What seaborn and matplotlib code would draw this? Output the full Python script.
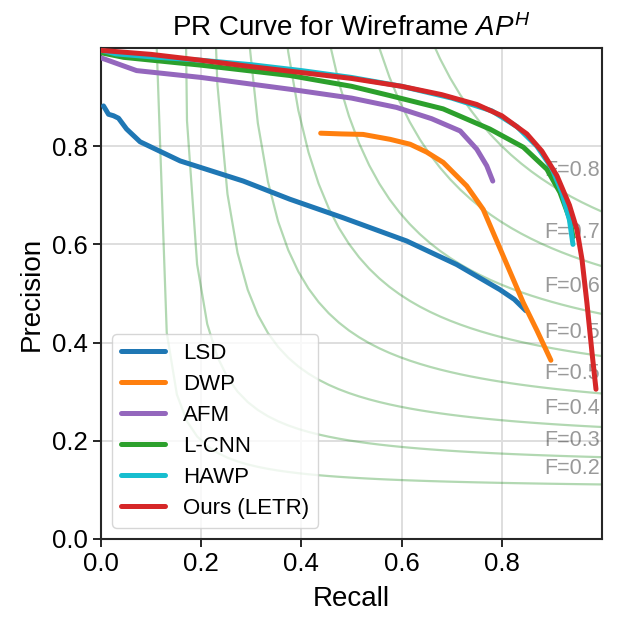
import numpy as np
import pandas as pd
import matplotlib
matplotlib.use("Agg")
import matplotlib.pyplot as plt
import seaborn as sns

# ---------------- data ----------------
methods = ["LSD", "DWP", "AFM", "L-CNN", "HAWP", "Ours (LETR)"]
colors = ["#1f77b4", "#ff7f0e", "#9467bd", "#2ca02c", "#17becf", "#d62728"]

lsd_r = [0.005, 0.015, 0.025, 0.035, 0.051, 0.078, 0.158, 0.284, 0.377, 0.484, 0.610, 0.710, 0.796, 0.825, 0.848]
lsd_p = [0.882, 0.865, 0.862, 0.857, 0.835, 0.809, 0.770, 0.729, 0.692, 0.654, 0.607, 0.559, 0.508, 0.488, 0.465]

dwp_r = [0.4385, 0.48, 0.523, 0.577, 0.617, 0.65, 0.683, 0.73, 0.763, 0.803, 0.843, 0.87, 0.898]
dwp_p = [0.8265, 0.825, 0.824, 0.814, 0.804, 0.788, 0.767, 0.719, 0.671, 0.576, 0.481, 0.425, 0.364]

afm_r = [0.0, 0.071, 0.2, 0.377, 0.5, 0.59, 0.66, 0.717, 0.75, 0.77, 0.782]
afm_p = [0.98, 0.954, 0.940, 0.916, 0.898, 0.879, 0.856, 0.831, 0.794, 0.760, 0.729]

lcnn_r = [0.002, 0.045, 0.2, 0.377, 0.5, 0.577, 0.683, 0.776, 0.843, 0.89, 0.916, 0.936, 0.942]
lcnn_p = [0.99, 0.981, 0.965, 0.944, 0.922, 0.903, 0.876, 0.835, 0.798, 0.753, 0.706, 0.651, 0.615]

hawp_r = [0.002, 0.03, 0.1, 0.2, 0.3, 0.4, 0.5, 0.6, 0.7, 0.78, 0.83, 0.87, 0.9, 0.92, 0.935, 0.942]
hawp_p = [0.995, 0.988, 0.982, 0.975, 0.966, 0.954, 0.940, 0.922, 0.898, 0.872, 0.840, 0.800, 0.755, 0.705, 0.650, 0.600]

letr_r = [0.002, 0.1, 0.2, 0.3, 0.4, 0.5, 0.6, 0.68, 0.75, 0.8, 0.85, 0.88, 0.91, 0.935, 0.95, 0.96, 0.97, 0.98, 0.988]
letr_p = [0.995, 0.987, 0.975, 0.962, 0.950, 0.938, 0.922, 0.905, 0.885, 0.862, 0.825, 0.790, 0.740, 0.680, 0.630, 0.570, 0.480, 0.380, 0.305]

f_scores = np.linspace(0.2, 0.8, num=8)
tick_vals = [0.0, 0.2, 0.4, 0.6, 0.8]

recalls = [lsd_r, dwp_r, afm_r, lcnn_r, hawp_r, letr_r]
precisions = [lsd_p, dwp_p, afm_p, lcnn_p, hawp_p, letr_p]

rows = []
for m, rr, pp in zip(methods, recalls, precisions):
    for r, p in zip(rr, pp):
        rows.append({"Method": m, "Recall": r, "Precision": p})
df = pd.DataFrame(rows)

# ---------------- style ----------------
sns.set_theme(context="notebook", style="ticks",
              rc={"axes.grid": True, "grid.color": "#dedede", "grid.linewidth": 1.4,
                  "axes.edgecolor": "#262626", "axes.linewidth": 1.5,
                  "xtick.major.size": 6, "ytick.major.size": 6,
                  "xtick.major.width": 1.4, "ytick.major.width": 1.4,
                  "text.color": "black", "axes.labelcolor": "black",
                  "xtick.color": "#262626", "ytick.color": "#262626",
                  "xtick.labelcolor": "black", "ytick.labelcolor": "black"})
plt.rcParams["font.family"] = ["Liberation Sans", "DejaVu Sans"]
plt.rcParams["mathtext.fontset"] = "custom"
plt.rcParams["mathtext.rm"] = "Liberation Sans"
plt.rcParams["mathtext.it"] = "Liberation Sans:italic"

fig = plt.figure(figsize=(6.17, 6.27), dpi=100)
ax = fig.add_axes([101 / 617, 1 - 539 / 627, 501 / 617, 491 / 627])

# iso-F curves
for f in f_scores:
    x = np.linspace(0.01, 1)
    y = f * x / (2 * x - f)
    ax.plot(x[y >= 0], y[y >= 0], color="green", alpha=0.3, lw=1.6, zorder=1)
    yl = f * 0.9 / (2 * 0.9 - f)
    ax.annotate("F={0:0.1}".format(f), xy=(0.885, yl + 0.02), alpha=0.4,
                fontsize=15.5, color="black", zorder=1)

sns.lineplot(data=df, x="Recall", y="Precision", hue="Method", hue_order=methods,
             palette=colors, sort=False, estimator=None, units="Method",
             lw=3.6, ax=ax, zorder=3)

ax.set_xlim(0.0, 1.0)
ax.set_ylim(0.0, 1.0)
ax.set_xticks(tick_vals)
ax.set_yticks(tick_vals)
ax.tick_params(labelsize=18.5)
ax.set_xlabel("Recall", fontsize=20, labelpad=7)
ax.set_ylabel("Precision", fontsize=20, labelpad=5)
ax.set_title("PR Curve for Wireframe $AP^H$", fontsize=20, pad=9)

handles, labels = ax.get_legend_handles_labels()
leg = ax.legend(handles, labels, loc="lower left", fontsize=16, framealpha=0.8,
                labelspacing=0.45)
for h in leg.get_lines():
    h.set_linewidth(3.6)

fig.savefig("out.png", dpi=100)
